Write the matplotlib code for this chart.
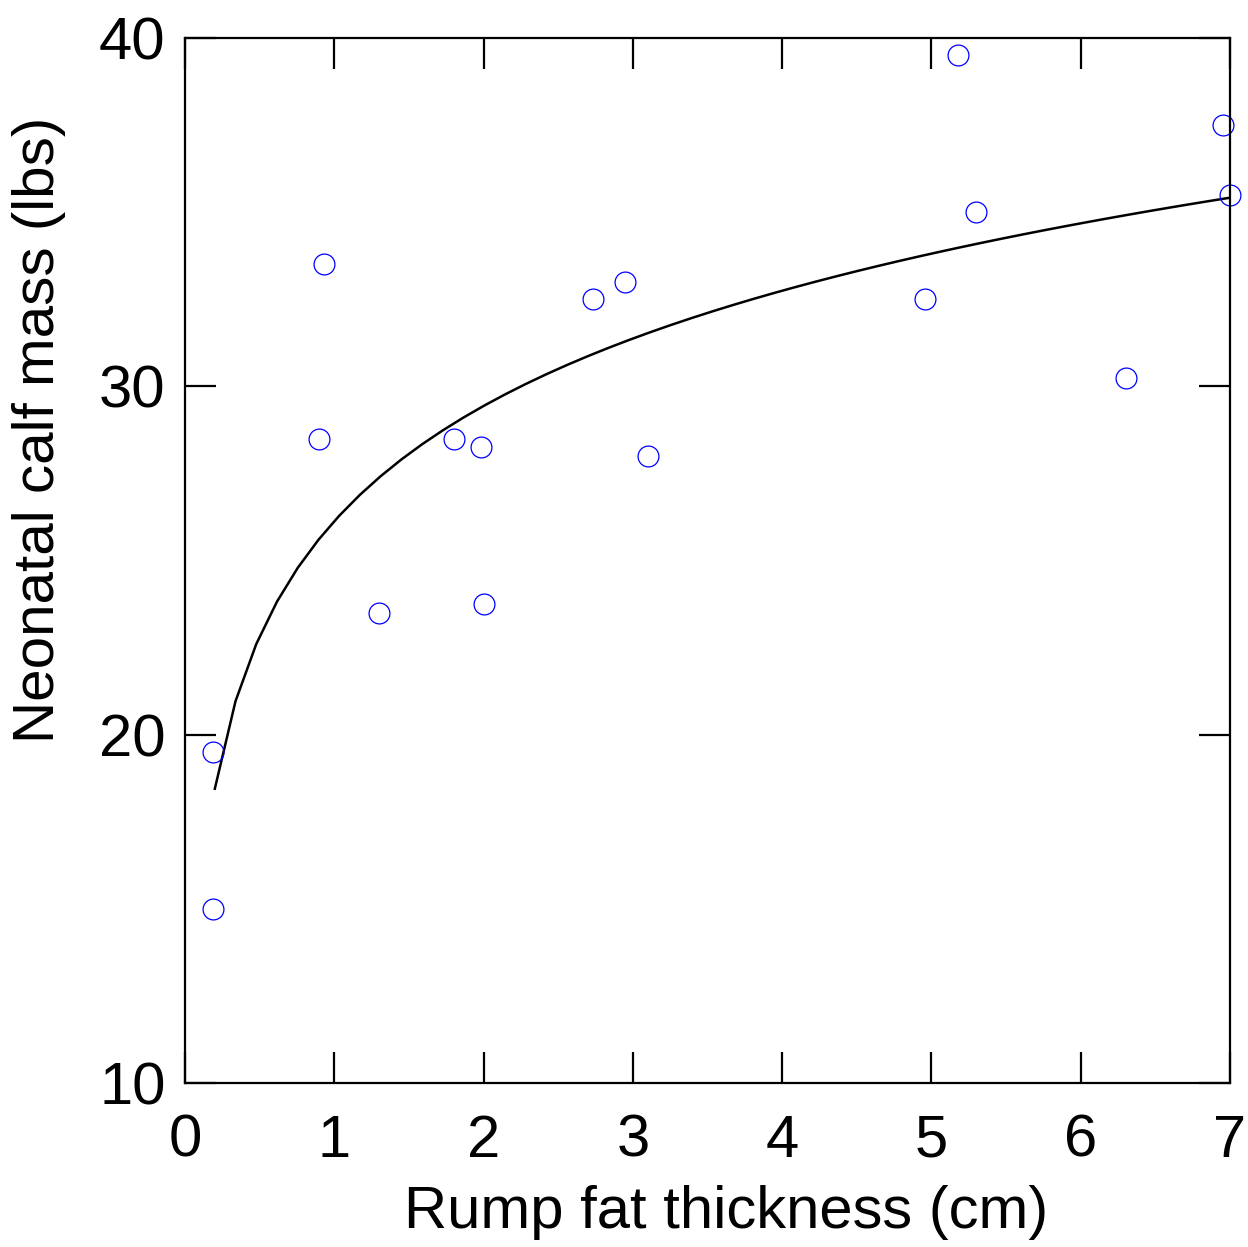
import numpy as np
import matplotlib
matplotlib.use("Agg")
import matplotlib.pyplot as plt

plt.rcParams['font.family'] = ['Liberation Sans', 'DejaVu Sans']

# rump fat thickness (cm) and neonatal calf mass (lbs)
fat = [0.19, 0.19, 0.90, 0.93, 1.30, 1.80, 1.98, 2.00, 2.73, 2.95,
       3.10, 4.96, 5.18, 5.30, 6.30, 6.95, 7.00]
mass = [19.5, 15.0, 28.5, 33.5, 23.5, 28.5, 28.25, 23.75, 32.5, 33.0,
        28.0, 32.5, 39.5, 35.0, 30.25, 37.5, 35.5]

# log fit  mass = a + b*ln(fat)
b, a = np.polyfit(np.log(fat), mass, 1)
xfit = np.linspace(0.2, 7.0, 50)
yfit = a + b * np.log(xfit)

fig = plt.figure(figsize=(12.48, 12.47), dpi=100)
ax = fig.add_axes([0.1482, 0.1315, 0.8374, 0.838])

ax.plot(xfit, yfit, color='black', lw=1.8)
ax.plot(fat, mass, 'o', ms=15, mfc='none', mec='blue', mew=0.9, clip_on=False)

ax.set_xlim(0, 7)
ax.set_ylim(10, 40)
ax.set_xticks(range(0, 8))
ax.set_yticks([10, 20, 30, 40])
ax.tick_params(direction='in', length=22, width=1.6, labelsize=43,
               top=True, right=True)
ax.tick_params(axis='x', pad=22)
ax.tick_params(axis='y', pad=14)
for s in ax.spines.values():
    s.set_linewidth(1.6)

fig.text(0.582, 0.006, 'Rump fat thickness (cm)', fontsize=43,
         ha='center', va='bottom')
fig.text(0.010, 0.655, 'Neonatal calf mass (lbs)', fontsize=42,
         rotation=90, ha='left', va='center')

fig.savefig('out.png', dpi=100)
